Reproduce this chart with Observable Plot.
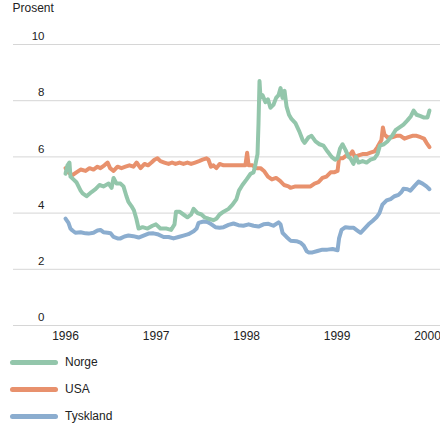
<!DOCTYPE html>
<html>
<head>
<meta charset="utf-8">
<script src="https://cdn.jsdelivr.net/npm/d3@7"></script>
<script src="https://cdn.jsdelivr.net/npm/@observablehq/plot@0.6"></script>
<style>
  html, body { margin: 0; padding: 0; background: #fff; overflow: hidden; }
  body { width: 440px; height: 423px; font-family: "Liberation Sans", Arial, Helvetica, sans-serif; color: #222; }
  #legend { padding-top: 3.5px; }
  .row { display: flex; align-items: center; height: 27px; font-size: 12px; }
  .sw { width: 48px; height: 5px; border-radius: 3px; margin-left: 10px; margin-right: 7px; }
</style>
</head>
<body>
<div id="chart"></div>
<div id="legend"></div>
<script>
// ---- Data ----
const seriesNames = ["Norge", "USA", "Tyskland"];
const seriesColors = ["#93c6ab", "#e8916d", "#8badcf"];
const yTicks = [0, 2, 4, 6, 8, 10];
const xTickYears = [1996, 1997, 1998, 1999, 2000];
const yLabel = "Prosent";

const norgeDates = ["1996-01-01","1996-01-09","1996-01-17","1996-01-21","1996-02-02","1996-02-14","1996-03-02","1996-03-10","1996-03-26","1996-04-15","1996-05-01","1996-05-17","1996-06-02","1996-06-23","1996-07-05","1996-07-13","1996-07-25","1996-08-10","1996-08-22","1996-09-03","1996-09-11","1996-09-23","1996-10-03","1996-10-13","1996-10-22","1996-11-07","1996-11-27","1996-12-17","1996-12-31","1997-01-18","1997-02-12","1997-03-02","1997-03-16","1997-03-22","1997-04-05","1997-04-21","1997-05-07","1997-05-22","1997-06-01","1997-06-17","1997-07-03","1997-07-15","1997-07-31","1997-08-20","1997-09-01","1997-09-14","1997-09-30","1997-10-20","1997-11-05","1997-11-21","1997-12-01","1997-12-15","1998-01-01","1998-01-17","1998-01-29","1998-02-06","1998-02-14","1998-02-18","1998-02-22","1998-02-26","1998-03-06","1998-03-18","1998-03-28","1998-04-07","1998-04-19","1998-04-30","1998-05-10","1998-05-18","1998-05-26","1998-06-03","1998-06-11","1998-06-21","1998-07-01","1998-07-17","1998-08-02","1998-08-15","1998-08-23","1998-09-08","1998-09-20","1998-10-06","1998-10-22","1998-11-07","1998-11-23","1998-12-10","1998-12-24","1999-01-03","1999-01-13","1999-01-23","1999-02-04","1999-02-16","1999-02-24","1999-03-08","1999-03-18","1999-03-29","1999-04-14","1999-04-30","1999-05-16","1999-06-01","1999-06-13","1999-06-23","1999-07-09","1999-07-23","1999-08-11","1999-08-25","1999-09-10","1999-09-26","1999-10-12","1999-10-26","1999-11-06","1999-11-18","1999-12-04","1999-12-18","2000-01-01","2000-01-09"];
const norgeValues = [5.4,5.7,5.8,5.3,5.2,5.1,4.8,4.7,4.6,4.75,4.85,5.0,4.95,5.05,4.9,5.25,5.05,5.05,4.95,4.6,4.4,4.25,4.1,3.8,3.45,3.5,3.45,3.55,3.6,3.45,3.45,3.4,3.6,4.05,4.05,3.95,3.85,3.95,4.15,4.0,3.95,3.85,3.8,3.75,3.8,3.95,4.05,4.15,4.3,4.5,4.8,5.0,5.2,5.4,5.45,5.75,6.1,7.2,8.7,8.1,8.2,7.95,8.05,7.75,7.85,8.1,8.2,8.45,8.1,8.35,7.8,7.5,7.35,7.2,6.9,6.6,6.5,6.7,6.75,6.55,6.45,6.4,6.2,6.0,5.9,5.95,6.3,6.45,6.25,6.0,5.95,5.75,6.0,5.8,5.85,5.8,5.9,5.95,6.1,6.4,6.45,6.55,6.75,6.95,7.05,7.15,7.3,7.45,7.65,7.5,7.45,7.4,7.4,7.65];

const usaDates = ["1996-01-01","1996-01-13","1996-01-29","1996-02-14","1996-03-02","1996-03-22","1996-04-07","1996-04-23","1996-05-09","1996-05-21","1996-06-06","1996-06-19","1996-06-29","1996-07-13","1996-07-29","1996-08-14","1996-08-30","1996-09-15","1996-10-01","1996-10-14","1996-10-30","1996-11-15","1996-11-29","1996-12-13","1996-12-25","1997-01-06","1997-01-18","1997-02-03","1997-02-20","1997-03-06","1997-03-20","1997-04-05","1997-04-21","1997-05-07","1997-05-22","1997-06-07","1997-06-23","1997-07-07","1997-07-23","1997-07-31","1997-08-10","1997-08-20","1997-09-01","1997-09-14","1997-09-30","1997-11-01","1997-11-29","1997-12-27","1998-01-03","1998-01-09","1998-01-25","1998-02-10","1998-02-26","1998-03-12","1998-03-28","1998-04-13","1998-04-30","1998-05-16","1998-06-01","1998-06-19","1998-06-27","1998-07-17","1998-08-10","1998-08-31","1998-09-16","1998-10-02","1998-10-18","1998-11-03","1998-11-19","1998-12-06","1998-12-20","1999-01-03","1999-01-09","1999-01-23","1999-02-08","1999-02-24","1999-03-04","1999-03-14","1999-03-29","1999-04-14","1999-04-30","1999-05-16","1999-06-01","1999-06-13","1999-06-29","1999-07-05","1999-07-11","1999-07-23","1999-08-11","1999-08-29","1999-09-14","1999-09-30","1999-10-16","1999-11-01","1999-11-18","1999-12-04","1999-12-18","1999-12-28","2000-01-09"];
const usaValues = [5.6,5.45,5.35,5.45,5.55,5.5,5.6,5.55,5.65,5.6,5.7,5.8,5.6,5.5,5.65,5.6,5.65,5.7,5.65,5.8,5.6,5.75,5.7,5.8,5.9,5.95,5.85,5.8,5.75,5.8,5.75,5.8,5.75,5.8,5.75,5.8,5.85,5.9,5.95,5.9,5.65,5.7,5.6,5.75,5.7,5.7,5.7,5.7,6.15,5.7,5.7,5.6,5.6,5.5,5.3,5.2,5.25,5.15,5.0,4.95,4.9,4.95,4.95,4.95,4.95,5.05,5.1,5.25,5.3,5.45,5.45,5.5,5.95,5.95,6.05,6.1,6.2,6.0,6.05,6.1,6.1,6.15,6.2,6.35,6.6,7.05,6.8,6.7,6.7,6.75,6.75,6.65,6.7,6.75,6.75,6.7,6.65,6.5,6.35];

const tysklandDates = ["1996-01-01","1996-01-13","1996-01-21","1996-01-29","1996-02-10","1996-03-02","1996-03-22","1996-04-03","1996-04-23","1996-05-09","1996-05-21","1996-06-02","1996-06-19","1996-07-01","1996-07-13","1996-07-29","1996-08-10","1996-08-26","1996-09-11","1996-10-01","1996-10-22","1996-11-11","1996-12-01","1996-12-21","1997-01-06","1997-01-31","1997-02-20","1997-03-12","1997-04-01","1997-04-21","1997-05-11","1997-06-01","1997-06-13","1997-06-21","1997-07-11","1997-07-27","1997-08-12","1997-08-28","1997-09-14","1997-09-30","1997-10-20","1997-11-09","1997-11-29","1997-12-19","1998-01-09","1998-01-29","1998-02-18","1998-03-10","1998-03-30","1998-04-19","1998-05-10","1998-05-18","1998-05-26","1998-06-11","1998-06-27","1998-07-21","1998-08-06","1998-08-19","1998-08-31","1998-09-08","1998-09-24","1998-10-14","1998-11-03","1998-11-23","1998-12-14","1999-01-03","1999-01-09","1999-01-19","1999-02-04","1999-02-20","1999-03-08","1999-03-24","1999-04-06","1999-04-22","1999-05-08","1999-05-24","1999-06-09","1999-06-21","1999-07-03","1999-07-20","1999-08-05","1999-08-21","1999-09-06","1999-09-18","1999-09-26","1999-10-12","1999-10-24","1999-11-10","1999-11-26","1999-12-12","1999-12-28","2000-01-09"];
const tysklandValues = [3.8,3.65,3.45,3.38,3.3,3.32,3.28,3.27,3.3,3.38,3.4,3.32,3.3,3.28,3.15,3.1,3.1,3.17,3.2,3.18,3.13,3.2,3.27,3.28,3.25,3.15,3.15,3.1,3.15,3.2,3.25,3.35,3.45,3.65,3.7,3.68,3.6,3.5,3.48,3.5,3.58,3.63,3.57,3.55,3.6,3.55,3.52,3.6,3.62,3.55,3.67,3.6,3.3,3.15,3.02,3.0,2.95,2.85,2.65,2.6,2.6,2.65,2.7,2.7,2.72,2.68,3.1,3.4,3.5,3.48,3.48,3.38,3.3,3.45,3.6,3.72,3.85,4.0,4.3,4.45,4.5,4.6,4.65,4.75,4.87,4.85,4.8,4.97,5.12,5.05,4.95,4.85];

// ---- Build table ----
const rows = (name, dates, values) => dates.map((d, i) => ({series: name, date: new Date(d), value: values[i]}));
const norge = rows("Norge", norgeDates, norgeValues);
const usa = rows("USA", usaDates, usaValues);
const tyskland = rows("Tyskland", tysklandDates, tysklandValues);
const xTicks = xTickYears.map(y => new Date(Date.UTC(y, 0, 1)));

const font = `"Liberation Sans", Arial, Helvetica, sans-serif`;

const chart = Plot.plot({
  width: 440,
  height: 345,
  marginLeft: 13,
  marginRight: 0,
  marginTop: 44,
  marginBottom: 20,
  style: {fontFamily: font, background: "#fff", color: "#222"},
  x: {type: "utc", domain: [xTicks[0], xTicks[xTicks.length - 1]], range: [65, 427], axis: null},
  y: {domain: [0, 10], axis: null},
  color: {domain: seriesNames, range: seriesColors},
  marks: [
    Plot.ruleY(yTicks, {stroke: "#d6d6d6", strokeWidth: 1}),
    Plot.text(yTicks, {y: d => d, text: d => String(d), frameAnchor: "left", textAnchor: "end", lineAnchor: "middle", dx: 31, dy: -8, fontSize: 11.5, fill: "#222"}),
    Plot.text(xTicks, {x: d => d, text: d => String(d.getUTCFullYear()), frameAnchor: "bottom", lineAnchor: "middle", dy: 11, fontSize: 12, fill: "#222"}),
    Plot.text([yLabel], {text: d => d, frameAnchor: "top-left", textAnchor: "start", lineAnchor: "middle", dx: -1, dy: -36, fontSize: 12, fill: "#222"}),
    Plot.line(tyskland, {x: "date", y: "value", stroke: "series", strokeWidth: 4, strokeLinejoin: "round", strokeLinecap: "round"}),
    Plot.line(usa, {x: "date", y: "value", stroke: "series", strokeWidth: 4, strokeLinejoin: "round", strokeLinecap: "round"}),
    Plot.line(norge, {x: "date", y: "value", stroke: "series", strokeWidth: 4, strokeLinejoin: "round", strokeLinecap: "round"})
  ]
});
document.getElementById("chart").appendChild(chart);

// ---- Legend ----
const legend = document.getElementById("legend");
seriesNames.forEach((name, i) => {
  const row = document.createElement("div");
  row.className = "row";
  const sw = document.createElement("span");
  sw.className = "sw";
  sw.style.background = seriesColors[i];
  const label = document.createElement("span");
  label.textContent = name;
  row.appendChild(sw);
  row.appendChild(label);
  legend.appendChild(row);
});
</script>
</body>
</html>
